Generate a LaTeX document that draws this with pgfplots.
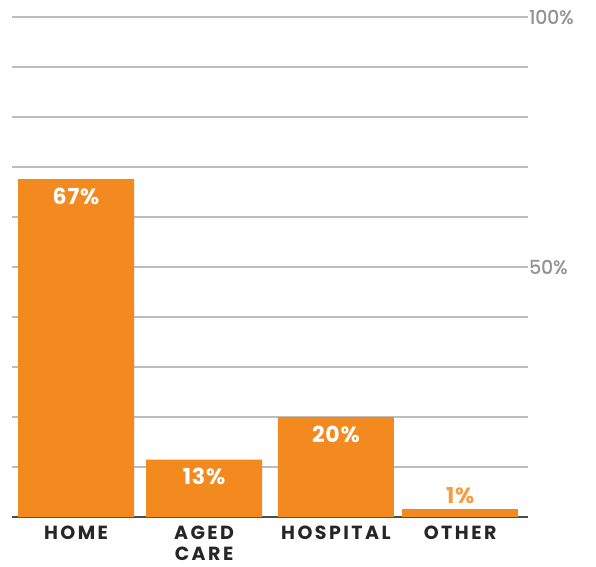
\documentclass[border=0pt]{standalone}
\usepackage{fontspec}
\setmainfont{Poppins}
\newfontfamily\catfont{Poppins}[LetterSpace=13]
\newfontfamily\valfont{Poppins}[LetterSpace=4]
\newfontfamily\medfont{Poppins}[FakeBold=1.2]
\usepackage{pgfplots}
\pgfplotsset{compat=1.18}
\definecolor{barorange}{HTML}{F28A1F}
\definecolor{gridgray}{HTML}{BDBDBD}
\definecolor{labgray}{HTML}{939393}

\begin{document}
\begin{tikzpicture}
\useasboundingbox (-12pt,-49pt) rectangle (584pt,517pt);
\begin{axis}[
    width=516pt, height=500pt,
    scale only axis,
    xmin=-0.5, xmax=3.53,
    ymin=0, ymax=100,
    ybar, bar shift=0pt, bar width=0.906,
    axis x line*=bottom,
    axis y line*=right,
    x axis line style={draw=black!70, line width=1.8pt},
    y axis line style={draw=none},
    xtick={0,1,2.03,3},
    xticklabels={HOME, AGED\\CARE, HOSPITAL, OTHER},
    xticklabel style={align=center, font=\catfont\bfseries\fontsize{19}{20.5}\selectfont, text=black!85, inner sep=0pt, yshift=-9pt},
    ytick={0,10,...,100},
    yticklabels={,,,,,50\%,,,,,100\%},
    yticklabel style={font=\medfont\fontsize{19}{21}\selectfont, text=labgray, inner sep=0pt, xshift=1pt},
    major tick length=0pt,
    ymajorgrids,
    grid style={gridgray, line width=1.3pt},
    point meta=explicit symbolic,
    nodes near coords,
    clip=false,
]
\addplot[fill=barorange, draw=none,
    nodes near coords style={anchor=center, yshift=-17pt, text=white, font=\valfont\bfseries\fontsize{22}{24}\selectfont}]
    coordinates {(0,67.6) [67\%] (1,11.5) [13\%] (2.03,20) [20\%]};
\addplot[fill=barorange, draw=none,
    nodes near coords style={anchor=center, yshift=13pt, text=barorange!85, font=\valfont\bfseries\fontsize{22}{24}\selectfont}]
    coordinates {(3,1.6) [1\%]};
\end{axis}
\end{tikzpicture}
\end{document}
